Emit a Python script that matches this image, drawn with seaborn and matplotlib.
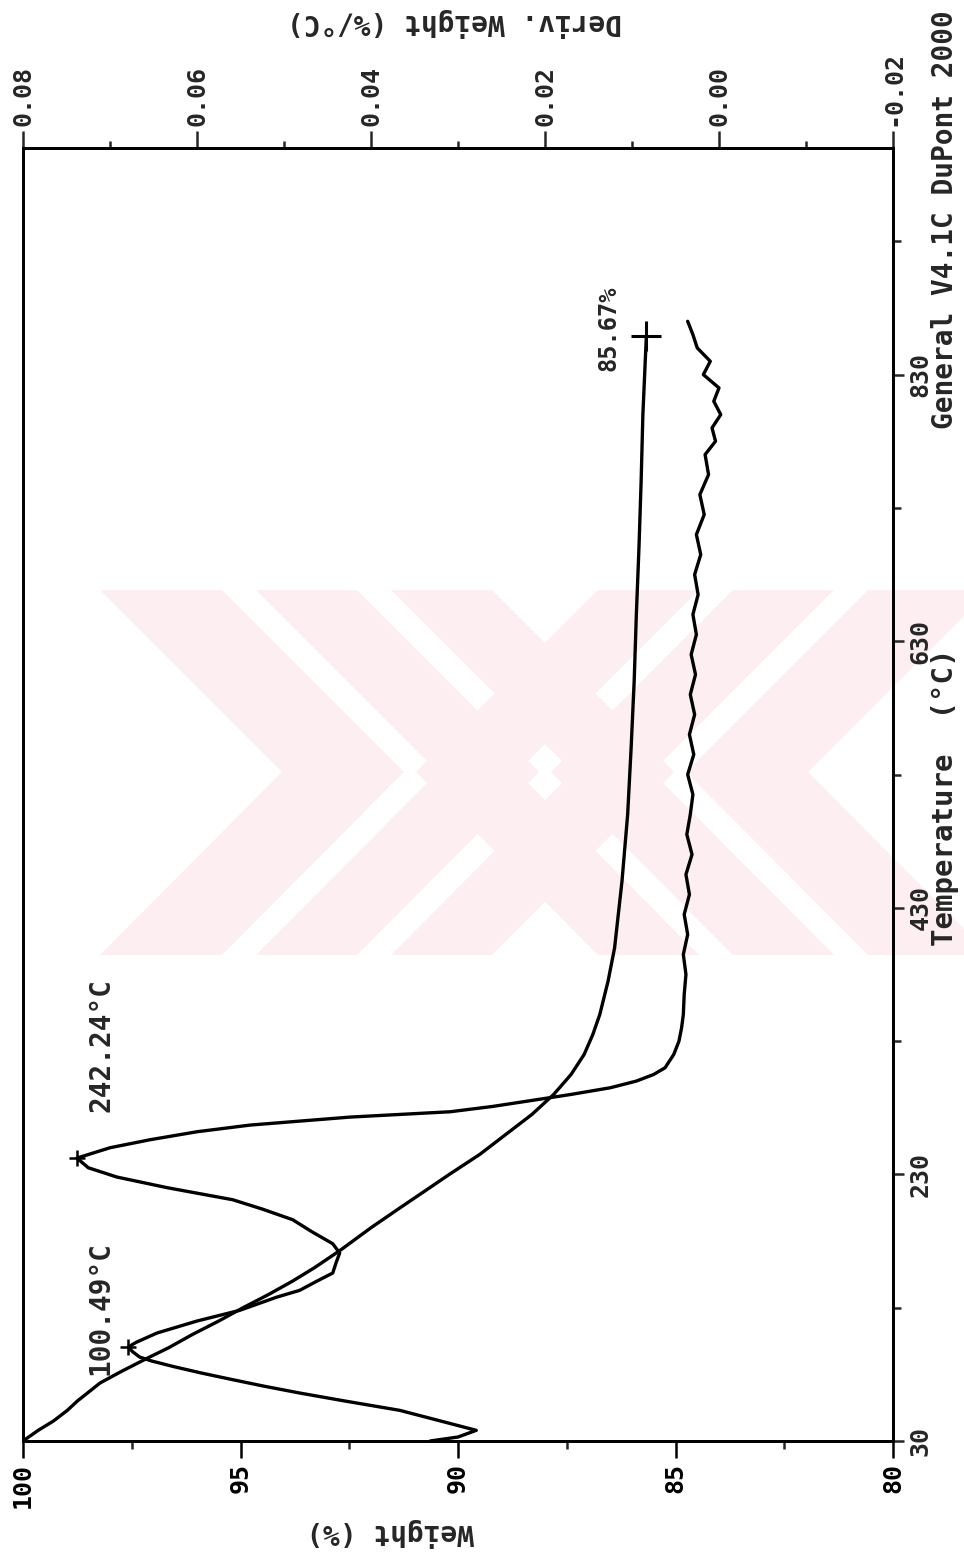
import matplotlib
matplotlib.use("Agg")
import matplotlib.pyplot as plt
from matplotlib.patches import Polygon
import seaborn as sns

sns.set_theme(style="white")
plt.rcParams['font.family'] = ['DejaVu Sans Mono', 'DejaVu Sans']
plt.rcParams['font.weight'] = 'bold'

# TGA weight curve: temperature (°C) and residual weight (%)
temp_w = [30, 38, 45, 53, 60, 67.5, 73.5, 82, 92, 100, 110, 120, 130, 140, 150, 160, 173,
          190, 205, 220, 230, 245, 260, 275, 290, 305, 320, 335, 350, 375, 400, 450,
          500, 550, 600, 650, 700, 750, 800, 859]
weight = [100.0, 99.65, 99.3, 98.98, 98.75, 98.46, 98.23, 97.75, 97.15, 96.65, 96.1,
          95.5, 94.94, 94.35, 93.8, 93.3, 92.71, 92.0, 91.33, 90.65, 90.2, 89.5, 88.9,
          88.3, 87.8, 87.4, 87.1, 86.9, 86.74, 86.55, 86.4, 86.23, 86.1, 86.02, 85.95,
          85.9, 85.84, 85.79, 85.75, 85.67]

# Derivative weight curve: temperature (°C) and dW/dT (%/°C)
temp_d = [30, 33, 38, 45, 53, 60, 66, 71, 76, 81, 86, 90, 93, 97, 100.49, 104, 111,
          120, 128, 138, 143, 150, 156, 164, 171, 178, 187, 196, 204, 211, 220, 228,
          235, 242.24, 250, 256, 262, 267, 273, 277, 281, 285, 290, 295, 300, 305, 310,
          320, 330, 340, 350, 365, 380, 395, 410, 425, 440, 455, 470, 485, 500, 515,
          530, 545, 560, 575, 590, 605, 620, 635, 650, 665, 680, 695, 710, 725, 740,
          755, 770, 780, 790, 800, 810, 820, 830, 840, 850, 860, 870]
deriv = [0.0332, 0.0300, 0.0279, 0.0320, 0.0367, 0.0430, 0.0482, 0.0522, 0.0559,
         0.0595, 0.0628, 0.0652, 0.0666, 0.0674, 0.0679, 0.0670, 0.0646, 0.0600,
         0.0551, 0.0508, 0.0482, 0.0462, 0.0444, 0.0440, 0.0436, 0.0444, 0.0468,
         0.0490, 0.0525, 0.0559, 0.0634, 0.0692, 0.0725, 0.0738, 0.0700, 0.0654,
         0.0600, 0.0539, 0.0424, 0.0309, 0.0260, 0.0220, 0.0170, 0.0125, 0.0095,
         0.0075, 0.0062, 0.0052, 0.0046, 0.0043, 0.0041, 0.0040, 0.0038, 0.0041,
         0.0036, 0.0040, 0.0034, 0.0038, 0.0031, 0.0037, 0.0033, 0.0030, 0.0036,
         0.0029, 0.0034, 0.0028, 0.0033, 0.0027, 0.0032, 0.0026, 0.0030, 0.0024,
         0.0028, 0.0021, 0.0026, 0.0017, 0.0022, 0.0012, 0.0016, 0.0004, 0.0008,
         -0.0002, 0.0006, 0.0000, 0.0018, 0.0010, 0.0025, 0.0030, 0.0036]

weight_ticks = [100, 95, 90, 85, 80]
weight_minor = [97.5, 92.5, 87.5, 82.5]
temp_ticks = [30, 230, 430, 630, 830]
temp_minor = [130, 330, 530, 730, 930]
deriv_ticks = [0.08, 0.06, 0.04, 0.02, 0.00, -0.02]
deriv_labels = ["0.08", "0.06", "0.04", "0.02", "0.00", "-0.02"]
deriv_minor = [0.07, 0.05, 0.03, 0.01, -0.01]

W, H = 964, 1562
fig = plt.figure(figsize=(W / 100, H / 100), dpi=100)
fig.patch.set_facecolor("white")


def px(x, y):
    return (x / W, 1 - y / H)


# faint chevron watermark behind the plot
wm_color = "#fdeff1"
wm_top, wm_mid, wm_bot = 590, 772, 955
shift = wm_mid - wm_top
bands = [(100, 222), (256, 357), (391, 492)]
centre = 545
for a, b in bands:
    left = [px(a, wm_bot), px(b, wm_bot), px(b + shift, wm_mid), px(b, wm_top),
            px(a, wm_top), px(a + shift, wm_mid)]
    right = [px(2 * centre - x * W, (1 - y) * H) for x, y in left]
    for pts in (left, right):
        fig.patches.append(Polygon(pts, closed=True, transform=fig.transFigure,
                                   facecolor=wm_color, edgecolor="none", zorder=-5))

ax = fig.add_axes([23 / W, 1 - 1441 / H, 870 / W, 1293 / H])
ax.set_facecolor("none")

ink = "black"
lw = 2.4
tick_fs = 18

# weight vs temperature (temperature runs up the page)
sns.lineplot(x=weight, y=temp_w, ax=ax, orient="y", sort=False, estimator=None,
             color=ink, lw=lw)
ax.set_xlim(100, 80)
ax.set_ylim(30, 1000)
ax.set_xlabel("")
ax.set_ylabel("")

ax.set_xticks(weight_ticks)
ax.set_xticklabels([str(v) for v in weight_ticks], rotation=90, fontsize=tick_fs)
ax.set_xticks(weight_minor, minor=True)
ax.yaxis.tick_right()
ax.set_yticks(temp_ticks)
ax.set_yticklabels([str(v) for v in temp_ticks], rotation=90, va="center",
                   ha="left", fontsize=tick_fs)
ax.set_yticks(temp_minor, minor=True)
ax.tick_params(axis="x", which="major", direction="out", length=12, width=1.8,
               pad=4, colors=ink, bottom=True)
ax.tick_params(axis="x", which="minor", direction="out", length=6, width=1.8,
               bottom=True)
ax.tick_params(axis="y", which="major", direction="out", length=8, width=1.8,
               pad=3, right=True, left=False)
ax.tick_params(axis="y", which="minor", direction="out", length=6, width=1.8,
               right=True, left=False)
for s in ax.spines.values():
    s.set_color(ink)
    s.set_linewidth(2.0)

# derivative on the opposite axis
ax2 = ax.twiny()
sns.lineplot(x=deriv, y=temp_d, ax=ax2, orient="y", sort=False, estimator=None,
             color=ink, lw=lw)
ax2.set_xlim(0.08, -0.02)
ax2.set_xlabel("")
ax2.set_xticks(deriv_ticks)
ax2.set_xticklabels(deriv_labels, rotation=90, fontsize=tick_fs)
ax2.set_xticks(deriv_minor, minor=True)
ax2.tick_params(axis="x", which="major", direction="out", length=12, width=1.8,
                pad=4, top=True)
ax2.tick_params(axis="x", which="minor", direction="out", length=5, width=1.8,
                top=True)
ax2.grid(False)
ax.grid(False)
for s in ax2.spines.values():
    s.set_linewidth(2.0)
    s.set_color(ink)

# peak and end-point markers
ax2.plot([deriv[temp_d.index(100.49)]], [100.49], marker="+", ms=12, mew=1.8, color=ink)
ax2.plot([deriv[temp_d.index(242.24)]], [242.24], marker="+", ms=12, mew=1.8, color=ink)
ax.plot([weight[-1]], [temp_w[-1]], marker="+", ms=22, mew=2.2, color=ink)

ax2.text(0.0711, 130, "100.49°C", rotation=90, ha="center", va="center", fontsize=20)
ax2.text(0.0710, 327, "242.24°C", rotation=90, ha="center", va="center", fontsize=20)
ax.text(86.55, 865, "85.67%", rotation=90, ha="center", va="center", fontsize=17)

fig.text(390 / W, 1 - 1533 / H, "Weight (%)", rotation=180, ha="center",
         va="center", fontsize=20)
fig.text(455 / W, 1 - 22 / H, "Deriv. Weight (%/°C)", rotation=180, ha="center",
         va="center", fontsize=20)
fig.text(945 / W, 1 - 797 / H, "Temperature  (°C)", rotation=90, ha="center",
         va="center", fontsize=21)
fig.text(945 / W, 1 - 220 / H, "General V4.1C DuPont 2000", rotation=90, ha="center",
         va="center", fontsize=20)

fig.savefig("out.png", dpi=100, facecolor="white")
